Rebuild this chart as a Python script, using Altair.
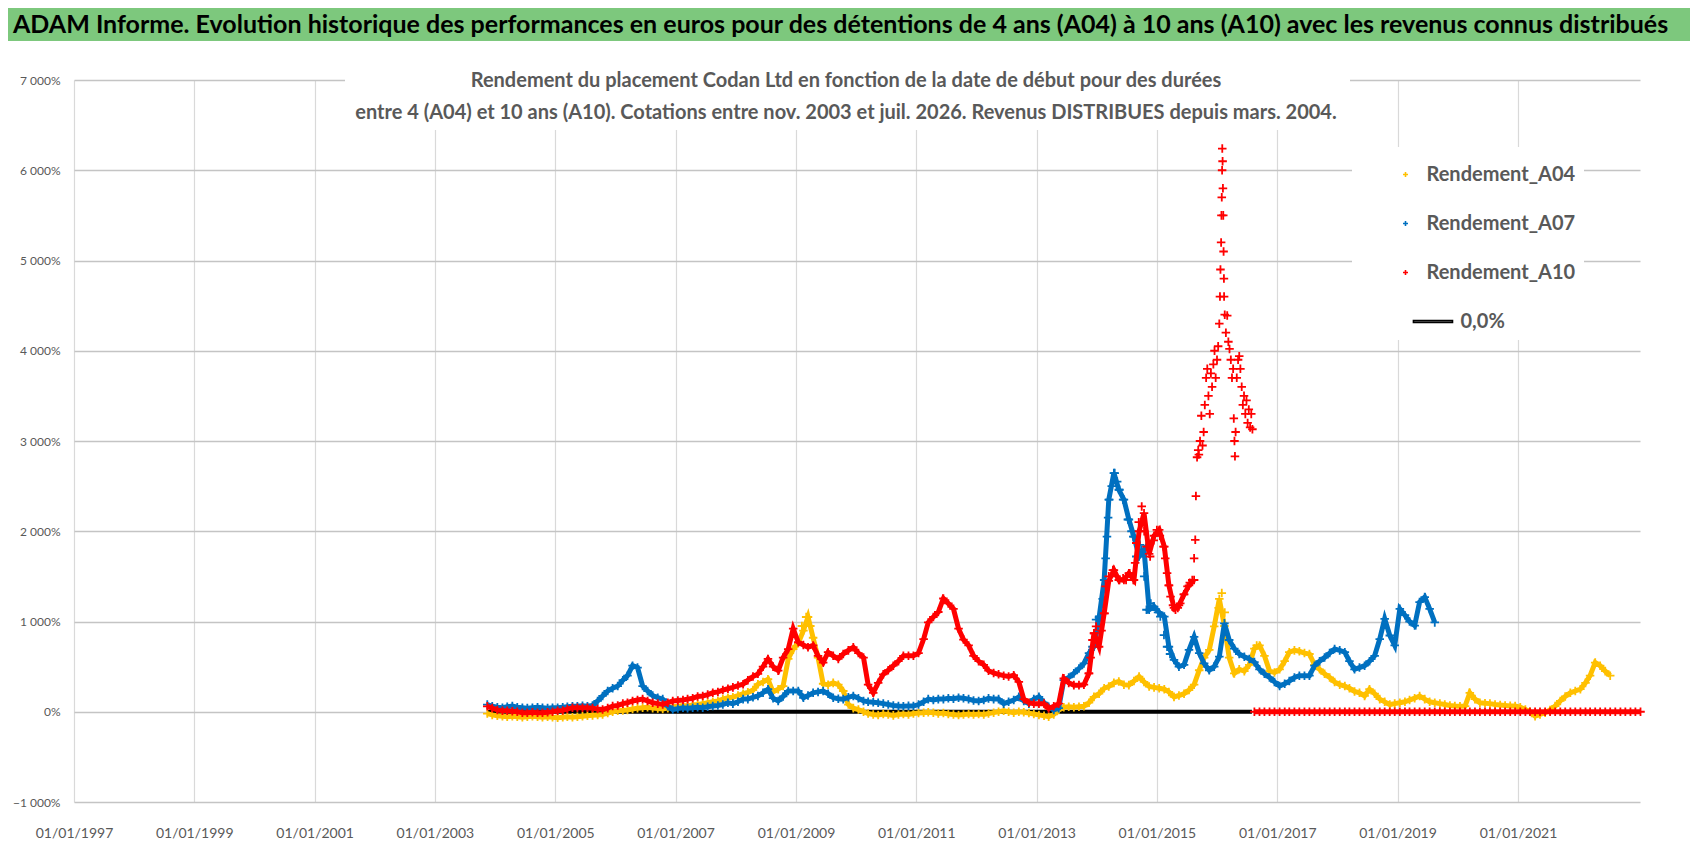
import altair as alt
import pandas as pd

FONT = "Lato, Roboto, sans-serif"

HEADER = ("ADAM Informe. Evolution historique des performances en euros pour des détentions "
          "de 4 ans (A04) à 10 ans (A10) avec les revenus connus distribués")
TITLE_1 = "Rendement du placement Codan Ltd en fonction de la date de début pour des durées"
TITLE_2 = ("entre 4 (A04) et 10 ans (A10).  Cotations entre nov. 2003 et juil. 2026. "
           "Revenus DISTRIBUES depuis mars. 2004.")

# zero-width space keeps the non-breaking spaces from being trimmed (room for the line symbol)
PAD = "\u200b" + "\u00a0" * 7
SERIES = ["Rendement_A04", "Rendement_A07", "Rendement_A10", PAD + "0,0%"]
COLORS = ["#FFC000", "#0070C0", "#FF0000", "#000000"]
PLUS = "M-0.135,0H0.135M0,-0.135V0.135"
BAR = "M0.43,-0.05H2.54V0.05H0.43Z"
SHAPES = [PLUS, PLUS, PLUS, BAR]

X_TICK_YEARS = [1997, 1999, 2001, 2003, 2005, 2007, 2009, 2011, 2013, 2015, 2017, 2019, 2021]
Y_TICKS = [-1000, 0, 1000, 2000, 3000, 4000, 5000, 6000, 7000]

# ---- monthly values (%), first month = start month ----
A04_START = "2003-11"
A04 = [-20, -35,
       -45, -50, -55, -50, -55, -60, -55, -50, -55, -60, -55, -60,
       -65, -60, -55, -60, -55, -50, -45, -40, -35, -30, -15, 0,
       10, 15, 20, 30, 40, 45, 50, 40, 35, 30, 40, 55,
       60, 70, 65, 75, 80, 90, 100, 110, 120, 140, 155, 160,
       180, 200, 215, 240, 305, 330, 360, 220, 250, 285, 585, 695,
       760, 900, 1050, 820, 600, 310, 300, 320, 300, 230, 80, 40,
       25, 0, -20, -30, -35, -25, -30, -40, -30, -25, -30, -20,
       -15, -10, -5, -10, -20, -15, -25, -30, -35, -30, -25, -30,
       -25, -30, -20, -10, 0, 10, 0, -10, 0, -5, -15, -25,
       -35, -45, -55, -30, 20, 50, 55, 50, 55, 60, 100, 165,
       200, 260, 280, 320, 335, 300, 295, 340, 390, 330, 280, 270,
       260, 250, 220, 165, 180, 200, 240, 300, 460, 600, 685, 945,
       1250, 950, 600, 425, 470, 450, 520, 700, 735, 620, 450, 435,
       470, 560, 660, 680, 670, 650, 640, 520, 470, 420, 380, 330,
       300, 285, 260, 225, 210, 175, 250, 200, 140, 110, 80, 90,
       100, 110, 130, 150, 175, 140, 110, 100, 90, 80, 70, 63,
       60, 63, 210, 140, 100, 95, 90, 80, 75, 70, 65, 63,
       50, 25, 0, -50, -30, -10, 20, 63, 120, 170, 210, 230,
       250, 320, 400, 545, 510, 450, 400]

A07_START = "2003-11"
A07 = [80, 60,
       50, 45, 55, 63, 50, 45, 40, 45, 50, 45, 40, 45,
       45, 50, 55, 60, 60, 65, 60, 70, 120, 175, 230, 260,
       285, 350, 400, 510, 490, 285, 230, 180, 155, 140, 60, 25,
       35, 45, 40, 45, 50, 45, 55, 63, 70, 80, 100, 90,
       110, 140, 140, 160, 175, 210, 250, 150, 120, 170, 230, 230,
       230, 155, 180, 210, 220, 230, 200, 155, 145, 140, 160, 175,
       150, 120, 110, 105, 100, 90, 80, 70, 63, 60, 65, 63,
       80, 110, 140, 130, 140, 140, 150, 145, 155, 150, 140, 125,
       120, 130, 148, 140, 140, 90, 110, 130, 165, 120, 90, 140,
       165, 100, 55, 20, 40, 350, 380, 425, 480, 535, 650, 720,
       1040, 1460, 2350, 2645, 2460, 2350, 2130, 1940, 1720, 1795, 1130, 1165,
       1100, 1055, 720, 575, 500, 520, 685, 830, 650, 535, 460, 500,
       610, 980, 795, 700, 640, 610, 585, 550, 470, 420, 380, 330,
       285, 310, 340, 380, 400, 400, 400, 510, 560, 600, 650, 695,
       680, 660, 560, 470, 490, 510, 560, 620, 805, 1030, 845, 735,
       1140, 1070, 1000, 955, 1215, 1270, 1140, 990]

A10_START = "2003-11"
A10 = [60, 40,
       20, 10, 10, 5, 0, -10, -10, -5, -10, -10, -5, 0,
       10, 15, 30, 45, 45, 45, 45, 40, 30, 25, 40, 63,
       70, 90, 100, 120, 130, 140, 120, 100, 90, 80, 100, 120,
       125, 130, 140, 150, 170, 175, 190, 210, 220, 240, 255, 270,
       290, 305, 350, 390, 420, 500, 585, 500, 455, 600, 695, 920,
       770, 740, 715, 735, 620, 545, 660, 620, 585, 640, 680, 715,
       650, 600, 300, 210, 320, 415, 460, 510, 560, 620, 620, 620,
       650, 805, 990, 1050, 1105, 1255, 1200, 1140, 920, 800, 735, 620,
       560, 520, 455, 430, 415, 400, 390, 405, 330, 140, 100, 90,
       90, 90, 35, 60, 90, 370, 320, 295, 295, 300, 425, 870,
       720, 1090, 1450, 1570, 1460, 1460, 1535, 1460, 2000, 2200, 1750, 1950,
       2015, 1830, 1400, 1150, 1180, 1300, 1400, 1460]

# A10 after mid-2016: values shown at 0 %
A10_ZERO_START = "2016-08"
A10_ZERO = [0, 0, 0, 0, 0, 0, 0, 0, 0, 0, 0, 0, 0,
            0, 0, 0, 0, 0, 0, 0, 0, 0, 0, 0, 0, 0,
            0, 0, 0, 0, 0, 0, 0, 0, 0, 0, 0, 0, 0,
            0, 0, 0, 0, 0, 0, 0, 0, 0, 0, 0, 0, 0,
            0, 0, 0, 0, 0, 0, 0, 0, 0, 0, 0, 0, 0,
            0, 0, 0, 0, 0, 0, 0, 0, 0, 0, 0, 0, 0]

# ---- extra detail points (decimal year, value) for steep / scattered parts ----
A04_EXTRA_T = [2008.90, 2009.10, 2009.17, 2009.24, 2016.03, 2016.08, 2016.13, 2016.66]
A04_EXTRA_V = [650, 950, 1050, 950, 1150, 1315, 1100, 735]

A07_EXTRA_T = [2013.93, 2013.99, 2014.04, 2014.10, 2014.13, 2014.15, 2014.17, 2014.19, 2014.21,
               2014.25, 2014.30, 2014.34, 2014.38, 2014.44, 2014.52, 2014.58, 2014.61, 2014.66,
               2014.72, 2014.75, 2014.79, 2014.83, 2014.90, 2014.94, 2015.02, 2015.06, 2015.12,
               2015.17, 2015.22]
A07_EXTRA_V = [720, 1020, 1055, 1250, 1460, 1700, 1940, 2150, 2350,
               2500, 2645, 2550, 2460, 2350, 2130, 2000, 1940, 1720,
               1850, 1795, 1500, 1130, 1200, 1165, 1100, 1055, 850,
               720, 640]

A10_EXTRA_T = [2013.87, 2013.90, 2013.93, 2013.96, 2013.99, 2014.08, 2014.13, 2014.15, 2014.20,
               2014.27, 2014.33, 2014.38, 2014.44, 2014.49, 2014.55, 2014.61, 2014.64, 2014.66,
               2014.70, 2014.75, 2014.79, 2014.83, 2014.89, 2014.95, 2015.00, 2015.05, 2015.11,
               2015.14, 2015.17, 2015.20, 2015.23, 2015.27, 2015.31, 2015.35, 2015.39, 2015.45,
               2015.51, 2015.55, 2015.59]
A10_EXTRA_V = [425, 600, 795, 870, 945, 900, 1090, 1390, 1500,
               1570, 1500, 1460, 1480, 1460, 1535, 1460, 1650, 1870,
               2100, 2275, 2000, 1830, 1720, 1900, 2015, 1950, 1830,
               1700, 1535, 1400, 1275, 1180, 1130, 1150, 1200, 1300,
               1390, 1430, 1460]

A10_SPIKE_T = [2015.62, 2015.64, 2015.65, 2015.67, 2015.69, 2015.70, 2015.72, 2015.74, 2015.76,
               2015.78, 2015.80, 2015.82, 2015.84, 2015.86, 2015.88, 2015.90, 2015.92, 2015.94,
               2015.96, 2015.98, 2016.00, 2016.02, 2016.04, 2016.05, 2016.06, 2016.07, 2016.075,
               2016.08, 2016.085, 2016.09, 2016.095, 2016.10, 2016.105, 2016.11, 2016.115, 2016.12,
               2016.13, 2016.15, 2016.17, 2016.19, 2016.21, 2016.23, 2016.25, 2016.27, 2016.28,
               2016.29, 2016.30, 2016.31, 2016.33, 2016.35, 2016.37, 2016.39, 2016.41, 2016.43,
               2016.45, 2016.47, 2016.49, 2016.51, 2016.53, 2016.55, 2016.57, 2016.59]
A10_SPIKE_V = [1700, 1905, 2390, 2820, 2900, 2850, 3000, 3280, 2950,
               3100, 3400, 3700, 3800, 3500, 3300, 3750, 3600, 3850,
               4000, 3700, 3900, 4050, 4300, 4600, 4900, 5200, 5500,
               5700, 6000, 6240, 6100, 5800, 5500, 5100, 4800, 4600,
               4400, 4200, 4390, 4100, 4020, 3900, 3700, 3800, 3250,
               3000, 2830, 3100, 3700, 3900, 3940, 3800, 3600, 3400,
               3500, 3300, 3450, 3200, 3350, 3150, 3300, 3130]

ZERO_LINE_T = [2003.88, 2016.58]
ZERO_LINE_V = [0, 0]


def monthly(start, values, name, seg=0):
    d = pd.date_range(start + "-01", periods=len(values), freq="MS") + pd.Timedelta(days=14)
    return pd.DataFrame({"date": d.strftime("%Y-%m-%d"), "v": values, "serie": name, "seg": seg})


def dec_dates(ts):
    out = []
    for t in ts:
        y = int(t)
        a = pd.Timestamp(year=y, month=1, day=1)
        b = pd.Timestamp(year=y + 1, month=1, day=1)
        out.append((a + (b - a) * (t - y)).strftime("%Y-%m-%d"))
    return out


def extra(ts, vs, name):
    return pd.DataFrame({"date": dec_dates(ts), "v": vs, "serie": name, "seg": 9})


m04 = monthly(A04_START, A04, SERIES[0])
m07 = monthly(A07_START, A07, SERIES[1])
m10 = monthly(A10_START, A10, SERIES[2], 0)
m10z = monthly(A10_ZERO_START, A10_ZERO, SERIES[2], 1)

pts04 = pd.concat([m04, extra(A04_EXTRA_T, A04_EXTRA_V, SERIES[0])], ignore_index=True)
pts07 = pd.concat([m07, extra(A07_EXTRA_T, A07_EXTRA_V, SERIES[1])], ignore_index=True)
pts10 = pd.concat([m10, extra(A10_EXTRA_T, A10_EXTRA_V, SERIES[2]),
                   extra(A10_SPIKE_T, A10_SPIKE_V, SERIES[2]), m10z], ignore_index=True)
line10 = pd.concat([m10, m10z], ignore_index=True)

zero_df = pd.DataFrame({"date": dec_dates(ZERO_LINE_T), "v": ZERO_LINE_V})

W, H = 1566, 722

x_enc = alt.X(
    "date:T",
    scale=alt.Scale(type="utc", domain=[alt.DateTime(year=1997, month=1, date=1, utc=True),
                                        alt.DateTime(year=2023, month=1, date=12, utc=True)]),
    axis=alt.Axis(values=[alt.DateTime(year=y, month=1, date=1, utc=True) for y in X_TICK_YEARS],
                  format="%d/%m/%Y", title=None, domain=False, ticks=False,
                  grid=True, gridColor="#D9D9D9", gridWidth=1.2,
                  labelFont=FONT, labelFontSize=14, labelColor="#595959",
                  labelPadding=24, labelOverlap=False, labelFlush=False),
)
y_enc = alt.Y(
    "v:Q",
    scale=alt.Scale(domain=[-1000, 7000], nice=False, zero=False),
    axis=alt.Axis(values=Y_TICKS, title=None, domain=False, ticks=False,
                  grid=True, gridColor="#C4C4C4", gridWidth=1.5,
                  labelExpr="replace(format(datum.value, ',d'), ',', ' ') + '%'",
                  labelFont=FONT, labelFontSize=12, labelColor="#595959", labelPadding=14),
)

leg = alt.Legend(title=None, orient="none", legendX=1278, legendY=67,
                 fillColor="white", padding=8, symbolSize=1369, symbolStrokeWidth=1.6,
                 symbolOffset=26, labelOffset=1.5, rowPadding=19,
                 labelFont=FONT, labelFontSize=20, labelFontWeight="bold",
                 labelColor="#595959", labelLimit=300)

color_enc = alt.Color("serie:N", scale=alt.Scale(domain=SERIES, range=COLORS), legend=leg)
shape_enc = alt.Shape("serie:N", scale=alt.Scale(domain=SERIES, range=SHAPES), legend=leg)

one = pd.DataFrame({"k": [0]})

banner = alt.Chart(one).mark_rect(color="#7DC87D").encode(
    x=alt.value(-66), x2=alt.value(1616), y=alt.value(-72), y2=alt.value(-39))

title_box = alt.Chart(one).mark_rect(color="white").encode(
    x=alt.value(271), x2=alt.value(1276), y=alt.value(-18), y2=alt.value(50))

header = alt.Chart(pd.DataFrame({"t": [HEADER]})).mark_text(
    align="left", baseline="middle", font=FONT, fontSize=25, fontWeight="bold", color="black"
).encode(text="t:N", x=alt.value(-61), y=alt.value(-55))

title1 = alt.Chart(pd.DataFrame({"t": [TITLE_1]})).mark_text(
    align="center", baseline="middle", font=FONT, fontSize=20, fontWeight="bold", color="#595959"
).encode(text="t:N", x=alt.value(772), y=alt.value(1))

title2 = alt.Chart(pd.DataFrame({"t": [TITLE_2]})).mark_text(
    align="center", baseline="middle", font=FONT, fontSize=20, fontWeight="bold", color="#595959"
).encode(text="t:N", x=alt.value(772), y=alt.value(33))

zero_line = alt.Chart(zero_df).mark_line(color="black", strokeWidth=4).encode(x=x_enc, y=y_enc)


def series_layers(line_df, pts_df, col):
    ln = alt.Chart(line_df).mark_line(color=col, strokeWidth=5).encode(
        x=x_enc, y=y_enc, detail="seg:N")
    pt = alt.Chart(pts_df).mark_point(filled=False, strokeWidth=1.8, size=4000, opacity=1).encode(
        x=x_enc, y=y_enc, color=color_enc, shape=shape_enc)
    return [ln, pt]


layers = [banner, title_box, zero_line]
layers += series_layers(m04, pts04, COLORS[0])
layers += series_layers(m07, pts07, COLORS[1])
layers += series_layers(line10, pts10, COLORS[2])
layers += [header, title1, title2]

chart = alt.layer(*layers).properties(
    width=W, height=H, padding=0,
).configure_view(stroke=None)

chart.save("out.html", embed_options={"renderer": "svg", "actions": False})
